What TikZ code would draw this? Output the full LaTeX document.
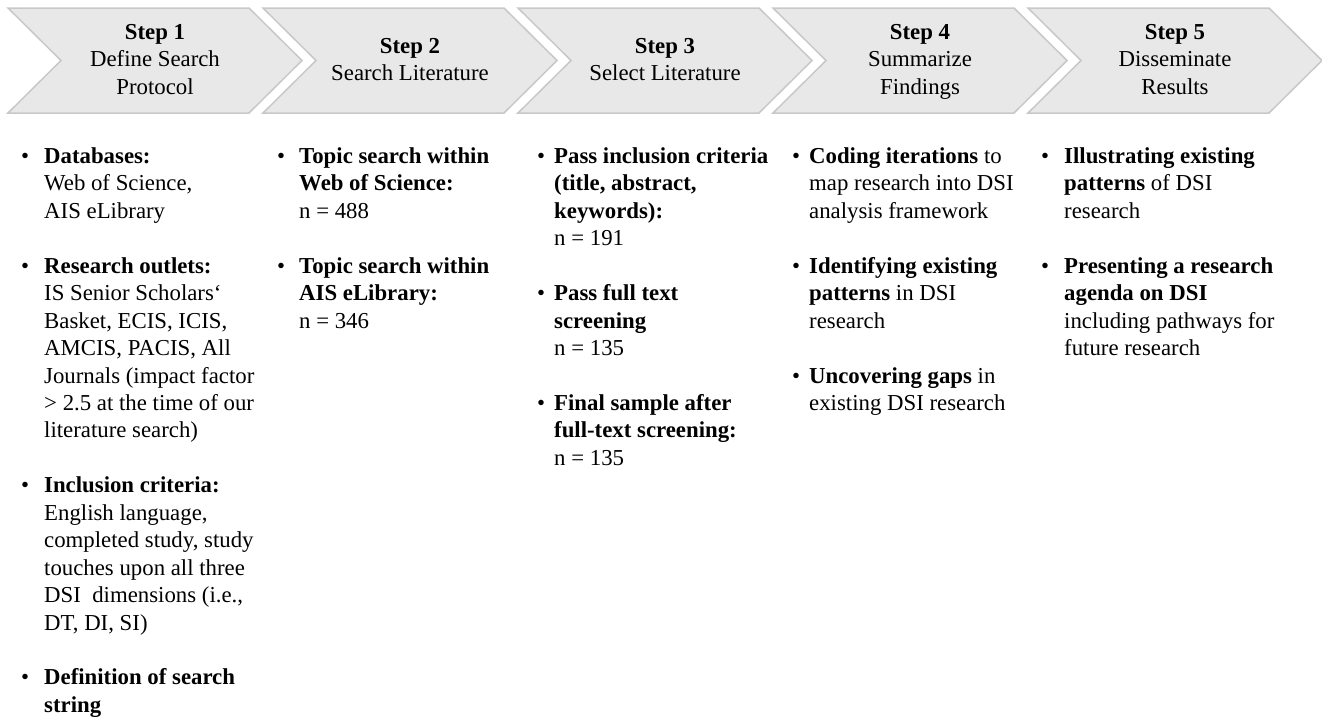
\documentclass[tikz,border=0pt]{standalone}
\usepackage{fontspec}
\setmainfont{Liberation Serif}
\definecolor{chevfill}{HTML}{E8E8E8}
\definecolor{chevline}{HTML}{C8C8C8}
\newlength{\bw}
\newcommand{\bl}{\makebox[\bw][l]{\textbullet}}
\newcommand{\ind}{\hspace*{\bw}}

\begin{document}
\begin{tikzpicture}[x=1pt, y=-1pt,
    chevron/.style={fill=chevfill, draw=chevline, line width=1.5pt, line join=miter},
    title/.style={align=center, inner sep=0pt, font=\fontsize{22.8}{27.45}\selectfont,
      execute at begin node=\strut, execute at end node=\strut},
    list/.style={align=left, inner sep=0pt, anchor=north west, font=\fontsize{22.8}{27.45}\selectfont}]
  \useasboundingbox (0,0) rectangle (1322,720);

  \foreach \i in {0,...,4}
    \filldraw[chevron] (8+255*\i,8) -- ++(241,0) -- ++(53,52.5) -- ++(-53,52.5)
      -- ++(-241,0) -- ++(53,-52.5) -- cycle;

  \node[title] (step1) at (155,63.5) {\textbf{Step 1}\\Define Search\\Protocol};
  \node[title] (step2) at (410,63.5) {\textbf{Step 2}\\Search Literature};
  \node[title] (step3) at (665,63.5) {\textbf{Step 3}\\Select Literature};
  \node[title] (step4) at (920,63.5) {\textbf{Step 4}\\Summarize\\Findings};
  \node[title] (step5) at (1175,63.5) {\textbf{Step 5}\\Disseminate\\Results};

  \setlength{\bw}{23pt}
  \node[list] (list1) at (21,144) {\strut\bl\textbf{Databases:}\\
    \ind Web of Science,\\
    \ind AIS eLibrary\\[27.45pt]
    \bl\textbf{Research outlets:}\\
    \ind IS Senior Scholars‘\\
    \ind Basket, ECIS, ICIS,\\
    \ind AMCIS, PACIS, All\\
    \ind Journals (impact factor\\
    \ind > 2.5 at the time of our\\
    \ind literature search)\\[27.45pt]
    \bl\textbf{Inclusion criteria:}\\
    \ind English language,\\
    \ind completed study, study\\
    \ind touches upon all three\\
    \ind DSI~ dimensions (i.e.,\\
    \ind DT, DI, SI)\\[27.45pt]
    \bl\textbf{Definition of search}\\
    \ind\textbf{string}};

  \setlength{\bw}{22pt}
  \node[list] (list2) at (277,144) {\strut\bl\textbf{Topic search within}\\
    \ind\textbf{Web of Science:}\\
    \ind n = 488\\[27.45pt]
    \bl\textbf{Topic search within}\\
    \ind\textbf{AIS eLibrary:}\\
    \ind n = 346};

  \setlength{\bw}{17pt}
  \node[list] (list3) at (537,144) {\strut\bl\textbf{Pass inclusion criteria}\\
    \ind\textbf{(title, abstract,}\\
    \ind\textbf{keywords):}\\
    \ind n = 191\\[27.45pt]
    \bl\textbf{Pass full text}\\
    \ind\textbf{screening}\\
    \ind n = 135\\[27.45pt]
    \bl\textbf{Final sample after}\\
    \ind\textbf{full-text screening:}\\
    \ind n = 135};

  \setlength{\bw}{17pt}
  \node[list] (list4) at (792,144) {\strut\bl\textbf{Coding iterations} to\\
    \ind map research into DSI\\
    \ind analysis framework\\[27.45pt]
    \bl\textbf{Identifying existing}\\
    \ind\textbf{patterns} in DSI\\
    \ind research\\[27.45pt]
    \bl\textbf{Uncovering gaps} in\\
    \ind existing DSI research};

  \setlength{\bw}{23pt}
  \node[list] (list5) at (1041,144) {\strut\bl\textbf{Illustrating existing}\\
    \ind\textbf{patterns} of DSI\\
    \ind research\\[27.45pt]
    \bl\textbf{Presenting a research}\\
    \ind\textbf{agenda on DSI}\\
    \ind including pathways for\\
    \ind future research};
\end{tikzpicture}
\end{document}
